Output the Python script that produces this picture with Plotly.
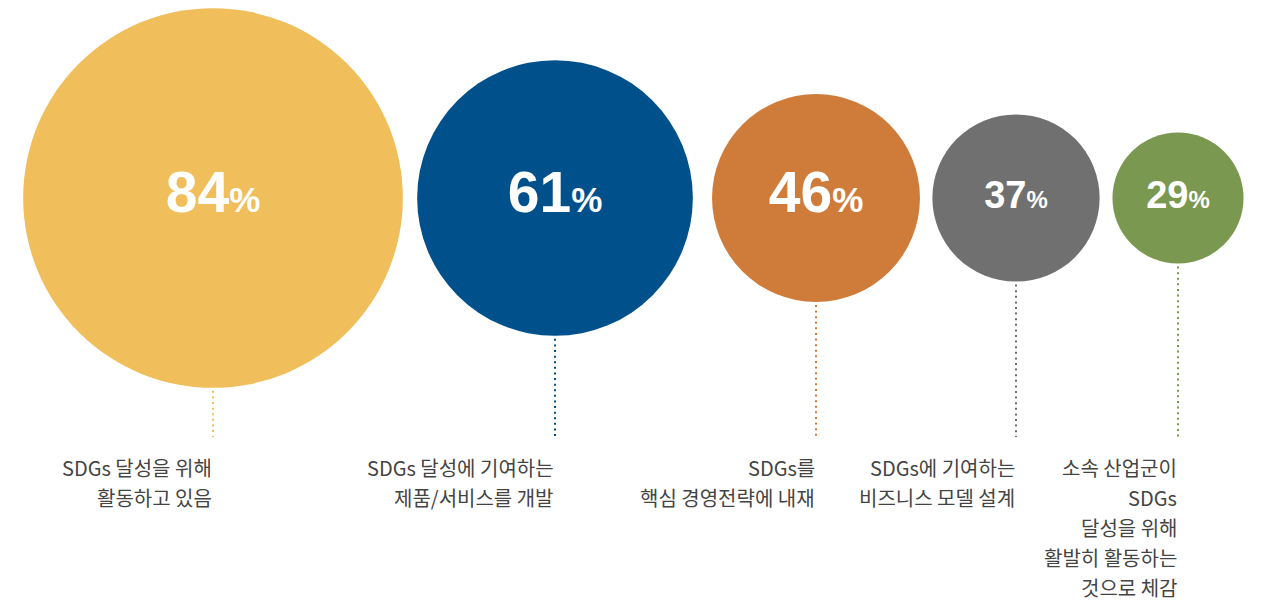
import plotly.graph_objects as go

# Share of respondents per statement (%)
values = [84, 61, 46, 37, 29]
statements = [
    ["SDGs 달성을 위해", "활동하고 있음"],
    ["SDGs 달성에 기여하는", "제품/서비스를 개발"],
    ["SDGs를", "핵심 경영전략에 내재"],
    ["SDGs에 기여하는", "비즈니스 모델 설계"],
    ["소속 산업군이", "SDGs", "달성을 위해", "활발히 활동하는", "것으로 체감"],
]

# Layout / style constants
colors = ["#F0BE5A", "#00508C", "#CF7C3B", "#707070", "#7A9850"]
center_x = [213, 555, 816, 1016, 1178]
center_y = 198
px_per_pct = 4.52           # bubble diameter in px per percentage point
num_size = [57, 57, 57, 38, 38]
pct_size = [35, 35, 35, 24, 24]
line_end_y = 437
label_top_y = 467
label_step = 30

W, H = 1264, 607
fig = go.Figure()

# Dotted leader lines below each bubble
for v, cx, col in zip(values, center_x, colors):
    top = center_y + v * px_per_pct / 2 + 3
    fig.add_trace(go.Scatter(
        x=[cx, cx], y=[top, line_end_y], mode="lines",
        line=dict(color=col, width=2, dash="2px,3.6px"),
        hoverinfo="skip", showlegend=False,
    ))

# Bubbles with percentage labels
texts = [f"<b>{v}<span style='font-size:{ps}px'>%</span></b>"
         for v, ps in zip(values, pct_size)]
fig.add_trace(go.Scatter(
    x=center_x, y=[center_y] * len(values), mode="markers+text",
    marker=dict(size=values, sizemode="diameter", sizeref=1 / px_per_pct,
                color=colors, opacity=1, line=dict(width=0)),
    text=texts, textposition="middle center",
    textfont=dict(color="white", size=num_size,
                  family="Liberation Sans, Arial, sans-serif"),
    hoverinfo="skip", showlegend=False,
))

# Statement labels, right-aligned to each leader line
annotations = []
for cx, lines in zip(center_x, statements):
    for i, line in enumerate(lines):
        annotations.append(dict(
            x=cx + 1, y=label_top_y + i * label_step, xref="x", yref="y",
            text=line, showarrow=False, xanchor="right", yanchor="middle",
            align="right",
            font=dict(family="Noto Sans CJK KR, sans-serif", size=20, color="#444444"),
        ))

fig.update_layout(
    width=W, height=H, margin=dict(l=0, r=0, t=0, b=0),
    paper_bgcolor="white", plot_bgcolor="white",
    xaxis=dict(range=[0, W], visible=False, fixedrange=True),
    yaxis=dict(range=[H, 0], visible=False, fixedrange=True),
    annotations=annotations, hovermode=False, showlegend=False,
)

fig.write_html("out.html", config={"displayModeBar": False})
